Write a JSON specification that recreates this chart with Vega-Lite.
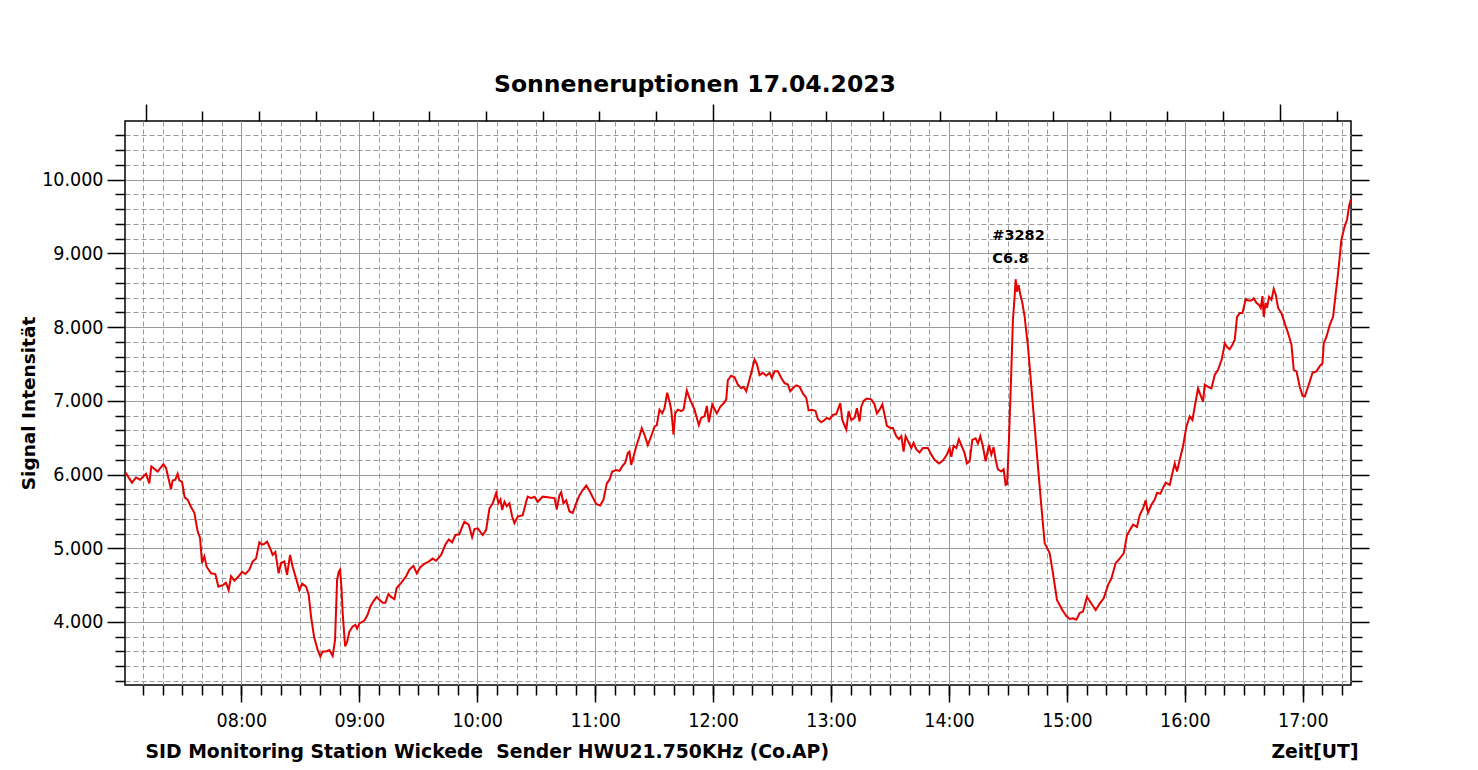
{
  "$schema": "https://vega.github.io/schema/vega-lite/v6.json",
  "width": 1226,
  "height": 564,
  "autosize": {"type": "none"},
  "padding": {"left": 125, "top": 121, "right": 127, "bottom": 85},
  "background": "white",
  "title": {
    "text": "Sonneneruptionen 17.04.2023",
    "font": "DejaVu Sans",
    "fontSize": 23.5,
    "fontWeight": "bold",
    "color": "black",
    "anchor": "middle",
    "dx": -43,
    "offset": 7
  },
  "data": {
    "values": [
      {"m": 0.97, "v": 6030}, {"m": 4.38, "v": 5890}, {"m": 6.41, "v": 5960}, {"m": 8.45, "v": 5930},
      {"m": 11.50, "v": 6010}, {"m": 13.18, "v": 5880}, {"m": 14.20, "v": 6110}, {"m": 17.40, "v": 6040},
      {"m": 20.31, "v": 6140}, {"m": 21.68, "v": 6090}, {"m": 24.22, "v": 5800}, {"m": 25.04, "v": 5920},
      {"m": 26.41, "v": 5930}, {"m": 27.58, "v": 6010}, {"m": 28.45, "v": 5920}, {"m": 29.82, "v": 5900},
      {"m": 31.15, "v": 5690}, {"m": 32.67, "v": 5660}, {"m": 34.40, "v": 5560}, {"m": 36.08, "v": 5480},
      {"m": 37.76, "v": 5230}, {"m": 38.98, "v": 5140}, {"m": 40.00, "v": 4800}, {"m": 41.17, "v": 4890},
      {"m": 42.34, "v": 4750}, {"m": 44.58, "v": 4660}, {"m": 46.77, "v": 4650}, {"m": 48.30, "v": 4480},
      {"m": 50.48, "v": 4500}, {"m": 52.21, "v": 4530}, {"m": 53.54, "v": 4430}, {"m": 54.76, "v": 4620},
      {"m": 56.44, "v": 4560}, {"m": 58.63, "v": 4620}, {"m": 60.36, "v": 4680}, {"m": 62.04, "v": 4650},
      {"m": 64.07, "v": 4710}, {"m": 65.75, "v": 4820}, {"m": 67.48, "v": 4860}, {"m": 69.16, "v": 5080},
      {"m": 70.53, "v": 5050}, {"m": 71.71, "v": 5060}, {"m": 73.08, "v": 5090}, {"m": 74.61, "v": 5000},
      {"m": 75.93, "v": 4910}, {"m": 77.30, "v": 4950}, {"m": 78.98, "v": 4660}, {"m": 80.20, "v": 4800},
      {"m": 81.88, "v": 4820}, {"m": 83.26, "v": 4640}, {"m": 84.78, "v": 4910}, {"m": 86.11, "v": 4750},
      {"m": 87.84, "v": 4590}, {"m": 89.52, "v": 4430}, {"m": 90.89, "v": 4520}, {"m": 92.93, "v": 4480},
      {"m": 94.25, "v": 4370}, {"m": 95.47, "v": 4070}, {"m": 96.99, "v": 3800}, {"m": 98.83, "v": 3620},
      {"m": 100.20, "v": 3530}, {"m": 101.37, "v": 3600}, {"m": 103.10, "v": 3600}, {"m": 104.78, "v": 3620},
      {"m": 106.46, "v": 3540}, {"m": 107.68, "v": 3760}, {"m": 108.70, "v": 4570}, {"m": 109.52, "v": 4680},
      {"m": 110.23, "v": 4710}, {"m": 110.89, "v": 4480}, {"m": 111.55, "v": 4120}, {"m": 112.77, "v": 3670},
      {"m": 113.79, "v": 3730}, {"m": 114.96, "v": 3870}, {"m": 116.64, "v": 3940}, {"m": 118.01, "v": 3960},
      {"m": 118.88, "v": 3910}, {"m": 120.05, "v": 3980}, {"m": 122.60, "v": 4020}, {"m": 124.28, "v": 4100},
      {"m": 125.65, "v": 4210}, {"m": 127.18, "v": 4280}, {"m": 128.86, "v": 4340}, {"m": 130.23, "v": 4300},
      {"m": 131.91, "v": 4260}, {"m": 133.28, "v": 4260}, {"m": 134.81, "v": 4380}, {"m": 136.18, "v": 4340},
      {"m": 137.86, "v": 4310}, {"m": 139.03, "v": 4460}, {"m": 141.27, "v": 4530}, {"m": 143.82, "v": 4620},
      {"m": 145.50, "v": 4710}, {"m": 147.53, "v": 4760}, {"m": 149.21, "v": 4660}, {"m": 150.94, "v": 4740},
      {"m": 153.13, "v": 4790}, {"m": 155.32, "v": 4820}, {"m": 157.35, "v": 4860}, {"m": 159.08, "v": 4830},
      {"m": 161.63, "v": 4910}, {"m": 163.82, "v": 5050}, {"m": 165.49, "v": 5120}, {"m": 167.23, "v": 5080},
      {"m": 168.91, "v": 5180}, {"m": 170.94, "v": 5190}, {"m": 172.31, "v": 5290}, {"m": 173.48, "v": 5360},
      {"m": 175.67, "v": 5320}, {"m": 177.40, "v": 5150}, {"m": 178.57, "v": 5260}, {"m": 180.25, "v": 5270},
      {"m": 182.80, "v": 5180}, {"m": 184.53, "v": 5250}, {"m": 186.21, "v": 5540}, {"m": 187.89, "v": 5610},
      {"m": 189.62, "v": 5750}, {"m": 190.79, "v": 5610}, {"m": 191.81, "v": 5660}, {"m": 192.67, "v": 5520},
      {"m": 193.84, "v": 5630}, {"m": 195.01, "v": 5570}, {"m": 196.39, "v": 5610}, {"m": 197.76, "v": 5430},
      {"m": 198.93, "v": 5340}, {"m": 200.61, "v": 5430}, {"m": 203.15, "v": 5450}, {"m": 204.88, "v": 5630},
      {"m": 205.70, "v": 5700}, {"m": 207.43, "v": 5680}, {"m": 209.11, "v": 5700}, {"m": 210.79, "v": 5630},
      {"m": 213.33, "v": 5700}, {"m": 216.74, "v": 5690}, {"m": 219.29, "v": 5680}, {"m": 220.46, "v": 5530},
      {"m": 221.83, "v": 5720}, {"m": 222.70, "v": 5760}, {"m": 223.87, "v": 5610}, {"m": 225.24, "v": 5650},
      {"m": 226.92, "v": 5500}, {"m": 228.60, "v": 5480}, {"m": 230.33, "v": 5610}, {"m": 232.01, "v": 5720},
      {"m": 233.69, "v": 5790}, {"m": 235.42, "v": 5850}, {"m": 237.10, "v": 5780}, {"m": 238.78, "v": 5690},
      {"m": 240.51, "v": 5600}, {"m": 242.55, "v": 5580}, {"m": 244.23, "v": 5660}, {"m": 245.91, "v": 5880},
      {"m": 247.28, "v": 5930}, {"m": 248.65, "v": 6040}, {"m": 250.69, "v": 6060}, {"m": 252.37, "v": 6050},
      {"m": 253.74, "v": 6110}, {"m": 255.27, "v": 6160}, {"m": 256.59, "v": 6290}, {"m": 257.45, "v": 6310},
      {"m": 258.32, "v": 6130}, {"m": 259.49, "v": 6240}, {"m": 260.86, "v": 6380}, {"m": 262.54, "v": 6520},
      {"m": 263.71, "v": 6630}, {"m": 265.09, "v": 6540}, {"m": 266.77, "v": 6400}, {"m": 268.50, "v": 6520},
      {"m": 270.18, "v": 6650}, {"m": 271.35, "v": 6670}, {"m": 272.72, "v": 6880}, {"m": 274.10, "v": 6830},
      {"m": 275.27, "v": 6900}, {"m": 276.64, "v": 7110}, {"m": 277.81, "v": 6990}, {"m": 278.68, "v": 6880},
      {"m": 279.85, "v": 6540}, {"m": 280.71, "v": 6830}, {"m": 282.04, "v": 6880}, {"m": 283.77, "v": 6860},
      {"m": 284.94, "v": 6880}, {"m": 286.62, "v": 7140}, {"m": 288.35, "v": 7010}, {"m": 290.54, "v": 6880},
      {"m": 292.73, "v": 6670}, {"m": 293.95, "v": 6770}, {"m": 295.63, "v": 6790}, {"m": 296.80, "v": 6930},
      {"m": 297.82, "v": 6710}, {"m": 299.55, "v": 6950}, {"m": 300.72, "v": 6890}, {"m": 301.89, "v": 6830},
      {"m": 303.62, "v": 6920}, {"m": 305.81, "v": 6980}, {"m": 306.67, "v": 7020}, {"m": 307.49, "v": 7280},
      {"m": 309.22, "v": 7340}, {"m": 310.90, "v": 7320}, {"m": 312.58, "v": 7220}, {"m": 314.31, "v": 7170},
      {"m": 315.48, "v": 7190}, {"m": 316.86, "v": 7130}, {"m": 318.18, "v": 7260}, {"m": 319.40, "v": 7380},
      {"m": 321.08, "v": 7560}, {"m": 322.25, "v": 7500}, {"m": 323.63, "v": 7350}, {"m": 325.31, "v": 7380},
      {"m": 327.04, "v": 7340}, {"m": 328.72, "v": 7380}, {"m": 329.89, "v": 7310}, {"m": 331.26, "v": 7400},
      {"m": 332.94, "v": 7400}, {"m": 334.67, "v": 7310}, {"m": 336.35, "v": 7240}, {"m": 338.03, "v": 7220},
      {"m": 339.25, "v": 7130}, {"m": 340.57, "v": 7170}, {"m": 342.30, "v": 7210}, {"m": 343.98, "v": 7190},
      {"m": 345.66, "v": 7100}, {"m": 347.39, "v": 7040}, {"m": 348.56, "v": 6870}, {"m": 350.44, "v": 6880},
      {"m": 352.12, "v": 6860}, {"m": 353.29, "v": 6750}, {"m": 355.02, "v": 6710}, {"m": 356.70, "v": 6740},
      {"m": 357.87, "v": 6770}, {"m": 359.24, "v": 6750}, {"m": 360.92, "v": 6810}, {"m": 362.65, "v": 6820},
      {"m": 364.69, "v": 6970}, {"m": 365.70, "v": 6740}, {"m": 367.74, "v": 6610}, {"m": 368.91, "v": 6860},
      {"m": 370.28, "v": 6740}, {"m": 371.96, "v": 6770}, {"m": 373.13, "v": 6900}, {"m": 374.51, "v": 6720},
      {"m": 375.37, "v": 6920}, {"m": 376.54, "v": 7000}, {"m": 378.22, "v": 7030}, {"m": 380.46, "v": 7020},
      {"m": 382.14, "v": 6950}, {"m": 383.31, "v": 6830}, {"m": 384.69, "v": 6880}, {"m": 386.06, "v": 6950},
      {"m": 387.23, "v": 6810}, {"m": 388.40, "v": 6660}, {"m": 390.13, "v": 6630}, {"m": 391.45, "v": 6630},
      {"m": 393.18, "v": 6520}, {"m": 394.51, "v": 6480}, {"m": 395.73, "v": 6520}, {"m": 396.90, "v": 6310},
      {"m": 397.92, "v": 6520}, {"m": 399.60, "v": 6430}, {"m": 400.82, "v": 6360}, {"m": 401.99, "v": 6430},
      {"m": 403.36, "v": 6340}, {"m": 405.04, "v": 6300}, {"m": 406.72, "v": 6360}, {"m": 409.26, "v": 6360},
      {"m": 410.99, "v": 6270}, {"m": 412.67, "v": 6200}, {"m": 414.86, "v": 6150}, {"m": 416.90, "v": 6190},
      {"m": 418.93, "v": 6270}, {"m": 420.31, "v": 6360}, {"m": 421.17, "v": 6240}, {"m": 422.34, "v": 6390},
      {"m": 423.72, "v": 6360}, {"m": 425.04, "v": 6480}, {"m": 426.57, "v": 6380}, {"m": 427.94, "v": 6290},
      {"m": 429.11, "v": 6150}, {"m": 430.49, "v": 6180}, {"m": 431.86, "v": 6470}, {"m": 433.54, "v": 6490},
      {"m": 434.71, "v": 6420}, {"m": 435.93, "v": 6520}, {"m": 437.26, "v": 6380}, {"m": 438.63, "v": 6180},
      {"m": 440.31, "v": 6400}, {"m": 441.53, "v": 6270}, {"m": 442.70, "v": 6370}, {"m": 443.72, "v": 6200},
      {"m": 444.89, "v": 6070}, {"m": 446.62, "v": 6040}, {"m": 447.79, "v": 6070}, {"m": 448.81, "v": 5860},
      {"m": 449.57, "v": 5870}, {"m": 450.49, "v": 6470}, {"m": 451.71, "v": 7420}, {"m": 452.52, "v": 8100},
      {"m": 453.39, "v": 8420}, {"m": 453.90, "v": 8650}, {"m": 454.56, "v": 8480}, {"m": 455.43, "v": 8570},
      {"m": 456.29, "v": 8440}, {"m": 457.31, "v": 8330}, {"m": 458.48, "v": 8140}, {"m": 460.16, "v": 7740},
      {"m": 461.89, "v": 7190}, {"m": 463.57, "v": 6650}, {"m": 465.25, "v": 6110}, {"m": 466.98, "v": 5570},
      {"m": 468.66, "v": 5070}, {"m": 471.21, "v": 4930}, {"m": 472.89, "v": 4660}, {"m": 474.92, "v": 4300},
      {"m": 477.67, "v": 4160}, {"m": 479.70, "v": 4080}, {"m": 481.38, "v": 4040}, {"m": 483.06, "v": 4050},
      {"m": 484.79, "v": 4030}, {"m": 486.47, "v": 4120}, {"m": 488.15, "v": 4140}, {"m": 490.19, "v": 4340},
      {"m": 492.43, "v": 4250}, {"m": 494.62, "v": 4160}, {"m": 496.65, "v": 4250}, {"m": 498.69, "v": 4320},
      {"m": 500.88, "v": 4500}, {"m": 502.61, "v": 4590}, {"m": 504.80, "v": 4800}, {"m": 506.83, "v": 4860},
      {"m": 508.87, "v": 4930}, {"m": 510.55, "v": 5180}, {"m": 513.60, "v": 5320}, {"m": 515.64, "v": 5290},
      {"m": 517.01, "v": 5450}, {"m": 518.69, "v": 5540}, {"m": 520.06, "v": 5650}, {"m": 521.23, "v": 5480},
      {"m": 522.96, "v": 5590}, {"m": 524.64, "v": 5660}, {"m": 525.81, "v": 5750}, {"m": 527.54, "v": 5740},
      {"m": 528.87, "v": 5820}, {"m": 530.24, "v": 5890}, {"m": 532.27, "v": 5860}, {"m": 533.65, "v": 6020},
      {"m": 534.82, "v": 6150}, {"m": 535.99, "v": 6040}, {"m": 537.36, "v": 6200}, {"m": 539.04, "v": 6380},
      {"m": 540.77, "v": 6650}, {"m": 542.45, "v": 6790}, {"m": 543.83, "v": 6740}, {"m": 545.00, "v": 6920},
      {"m": 546.68, "v": 7170}, {"m": 547.90, "v": 7080}, {"m": 549.22, "v": 6990}, {"m": 550.09, "v": 7220},
      {"m": 551.77, "v": 7190}, {"m": 553.50, "v": 7170}, {"m": 555.18, "v": 7350}, {"m": 556.86, "v": 7420},
      {"m": 558.59, "v": 7550}, {"m": 559.40, "v": 7650}, {"m": 560.27, "v": 7780}, {"m": 561.44, "v": 7730},
      {"m": 562.81, "v": 7700}, {"m": 564.19, "v": 7760}, {"m": 565.36, "v": 7830}, {"m": 566.53, "v": 8140},
      {"m": 567.90, "v": 8190}, {"m": 569.27, "v": 8190}, {"m": 570.95, "v": 8380}, {"m": 572.12, "v": 8360},
      {"m": 573.85, "v": 8360}, {"m": 575.02, "v": 8390}, {"m": 576.40, "v": 8330}, {"m": 577.72, "v": 8300},
      {"m": 578.59, "v": 8260}, {"m": 579.45, "v": 8420}, {"m": 580.11, "v": 8140}, {"m": 580.98, "v": 8330},
      {"m": 581.79, "v": 8260}, {"m": 582.81, "v": 8410}, {"m": 584.03, "v": 8370}, {"m": 585.20, "v": 8520},
      {"m": 586.22, "v": 8440}, {"m": 587.39, "v": 8260}, {"m": 589.12, "v": 8190}, {"m": 590.80, "v": 8050},
      {"m": 592.48, "v": 7920}, {"m": 594.21, "v": 7760}, {"m": 595.38, "v": 7420}, {"m": 596.76, "v": 7400},
      {"m": 598.44, "v": 7190}, {"m": 599.81, "v": 7070}, {"m": 600.98, "v": 7060}, {"m": 602.15, "v": 7150},
      {"m": 603.52, "v": 7260}, {"m": 604.90, "v": 7380}, {"m": 606.93, "v": 7400}, {"m": 608.61, "v": 7470},
      {"m": 609.98, "v": 7510}, {"m": 610.64, "v": 7780}, {"m": 612.02, "v": 7870}, {"m": 613.70, "v": 8030},
      {"m": 615.38, "v": 8140}, {"m": 616.75, "v": 8460}, {"m": 617.92, "v": 8730}, {"m": 619.65, "v": 9190},
      {"m": 621.33, "v": 9370}, {"m": 622.50, "v": 9460}, {"m": 623.52, "v": 9640}, {"m": 624.39, "v": 9730}
    ]
  },
  "encoding": {
    "x": {
      "field": "m",
      "type": "quantitative",
      "title": "Minuten nach 07:00 UT",
      "scale": {"domain": [0.81, 624.5], "nice": false, "zero": false}
    },
    "y": {
      "field": "v",
      "type": "quantitative",
      "title": "Signal Intensität",
      "scale": {"domain": [3145, 10796], "nice": false, "zero": false}
    }
  },
  "layer": [
    {
      "mark": {"type": "point", "opacity": 0},
      "encoding": {
        "x": {
          "field": "m",
          "type": "quantitative",
          "axis": {
            "orient": "bottom",
            "values": [10, 20, 30, 40, 50, 60, 70, 80, 90, 100, 110, 120, 130, 140, 150, 160, 170, 180, 190, 200, 210, 220, 230, 240, 250, 260, 270, 280, 290, 300, 310, 320, 330, 340, 350, 360, 370, 380, 390, 400, 410, 420, 430, 440, 450, 460, 470, 480, 490, 500, 510, 520, 530, 540, 550, 560, 570, 580, 590, 600, 610, 620],
            "labels": false,
            "domain": false,
            "tickColor": "black",
            "tickWidth": 1.5,
            "tickSize": 10,
            "grid": true,
            "gridColor": "#9a9a9a",
            "gridWidth": 1,
            "gridDash": [5, 3],
            "title": "Zeit[UT]",
            "titleFont": "DejaVu Sans",
            "titleFontSize": 18.8,
            "titleFontWeight": "bold",
            "titleColor": "black",
            "titleAnchor": "end",
            "titleAlign": "right",
            "titleBaseline": "alphabetic",
            "titleX": 1233,
            "titleY": 72
          }
        },
        "y": {
          "field": "v",
          "type": "quantitative",
          "axis": {
            "orient": "left",
            "values": [3200, 3400, 3600, 3800, 4200, 4400, 4600, 4800, 5200, 5400, 5600, 5800, 6200, 6400, 6600, 6800, 7200, 7400, 7600, 7800, 8200, 8400, 8600, 8800, 9200, 9400, 9600, 9800, 10200, 10400, 10600],
            "labels": false,
            "domain": false,
            "tickColor": "black",
            "tickWidth": 1.5,
            "tickSize": 10,
            "grid": true,
            "gridColor": "#9a9a9a",
            "gridWidth": 1,
            "gridDash": [5, 3],
            "title": null
          }
        }
      }
    },
    {
      "mark": {"type": "line", "color": "#e60000", "strokeWidth": 2, "clip": true},
      "encoding": {
        "x": {
          "field": "m",
          "type": "quantitative",
          "axis": {
            "orient": "bottom",
            "values": [60, 120, 180, 240, 300, 360, 420, 480, 540, 600],
            "labelExpr": "(datum.value / 60 + 7 < 10 ? '0' : '') + (datum.value / 60 + 7) + ':00'",
            "labelOverlap": false,
            "labelFlush": false,
            "labelFont": "DejaVu Sans Condensed, DejaVu Sans",
            "labelFontSize": 19.5,
            "labelColor": "black",
            "labelPadding": 9,
            "domain": false,
            "tickColor": "black",
            "tickWidth": 1.5,
            "tickSize": 17,
            "grid": true,
            "gridColor": "#9a9a9a",
            "gridWidth": 1,
            "title": "SID Monitoring Station Wickede\u00a0 Sender HWU21.750KHz (Co.AP)",
            "titleFont": "DejaVu Sans",
            "titleFontSize": 18.8,
            "titleFontWeight": "bold",
            "titleColor": "black",
            "titleAnchor": "start",
            "titleAlign": "left",
            "titleBaseline": "alphabetic",
            "titleX": 20,
            "titleY": 72
          }
        },
        "y": {
          "field": "v",
          "type": "quantitative",
          "axis": {
            "orient": "left",
            "values": [4000, 5000, 6000, 7000, 8000, 9000, 10000],
            "labelExpr": "replace(format(datum.value, ','), ',', '.')",
            "labelOverlap": false,
            "labelFlush": false,
            "labelFont": "DejaVu Sans Condensed, DejaVu Sans",
            "labelFontSize": 19.5,
            "labelColor": "black",
            "labelPadding": 4,
            "domain": false,
            "tickColor": "black",
            "tickWidth": 1.5,
            "tickSize": 18,
            "grid": true,
            "gridColor": "#9a9a9a",
            "gridWidth": 1,
            "title": "Signal Intensität",
            "titleFont": "DejaVu Sans",
            "titleFontSize": 18.5,
            "titleFontWeight": "bold",
            "titleColor": "black",
            "titleAngle": 270,
            "titleAlign": "center",
            "titleBaseline": "middle",
            "titleX": -97,
            "titleY": 282
          }
        }
      }
    },
    {
      "mark": {"type": "point", "opacity": 0},
      "encoding": {
        "x": {
          "field": "m",
          "type": "quantitative",
          "axis": {
            "orient": "top",
            "values": [40.15, 69.01, 97.86, 126.72, 155.58, 184.43, 213.29, 242.14, 271.00, 328.71, 357.56, 386.42, 415.27, 444.13, 472.99, 501.84, 530.70, 559.55, 617.26],
            "labels": false,
            "domain": false,
            "grid": false,
            "tickColor": "black",
            "tickWidth": 1.5,
            "tickSize": 10,
            "title": null
          }
        },
        "y": {
          "field": "v",
          "type": "quantitative",
          "axis": {
            "orient": "right",
            "values": [3200, 3400, 3600, 3800, 4200, 4400, 4600, 4800, 5200, 5400, 5600, 5800, 6200, 6400, 6600, 6800, 7200, 7400, 7600, 7800, 8200, 8400, 8600, 8800, 9200, 9400, 9600, 9800, 10200, 10400, 10600],
            "labels": false,
            "domain": false,
            "grid": false,
            "tickColor": "black",
            "tickWidth": 1.5,
            "tickSize": 11,
            "title": null
          }
        }
      }
    },
    {
      "mark": {"type": "point", "opacity": 0},
      "encoding": {
        "x": {
          "field": "m",
          "type": "quantitative",
          "axis": {
            "orient": "top",
            "values": [11.30, 299.85, 588.41],
            "labels": false,
            "domain": false,
            "grid": false,
            "tickColor": "black",
            "tickWidth": 1.5,
            "tickSize": 17,
            "title": null
          }
        },
        "y": {
          "field": "v",
          "type": "quantitative",
          "axis": {
            "orient": "right",
            "values": [4000, 5000, 6000, 7000, 8000, 9000, 10000],
            "labels": false,
            "domain": false,
            "grid": false,
            "tickColor": "black",
            "tickWidth": 1.5,
            "tickSize": 18,
            "title": null
          }
        }
      }
    },
    {
      "data": {
        "values": [
          {"m": 442.0, "v": 9186, "label": "#3282"},
          {"m": 442.0, "v": 8870, "label": "C6.8"}
        ]
      },
      "mark": {
        "type": "text",
        "align": "left",
        "baseline": "alphabetic",
        "font": "DejaVu Sans",
        "fontSize": 14.5,
        "fontWeight": "bold",
        "color": "black"
      },
      "encoding": {
        "x": {"field": "m", "type": "quantitative", "axis": null},
        "y": {"field": "v", "type": "quantitative", "axis": null},
        "text": {"field": "label", "type": "nominal"}
      }
    }
  ],
  "resolve": {
    "axis": {"x": "independent", "y": "independent"}
  },
  "config": {
    "view": {"stroke": "black", "strokeWidth": 1.5}
  }
}
